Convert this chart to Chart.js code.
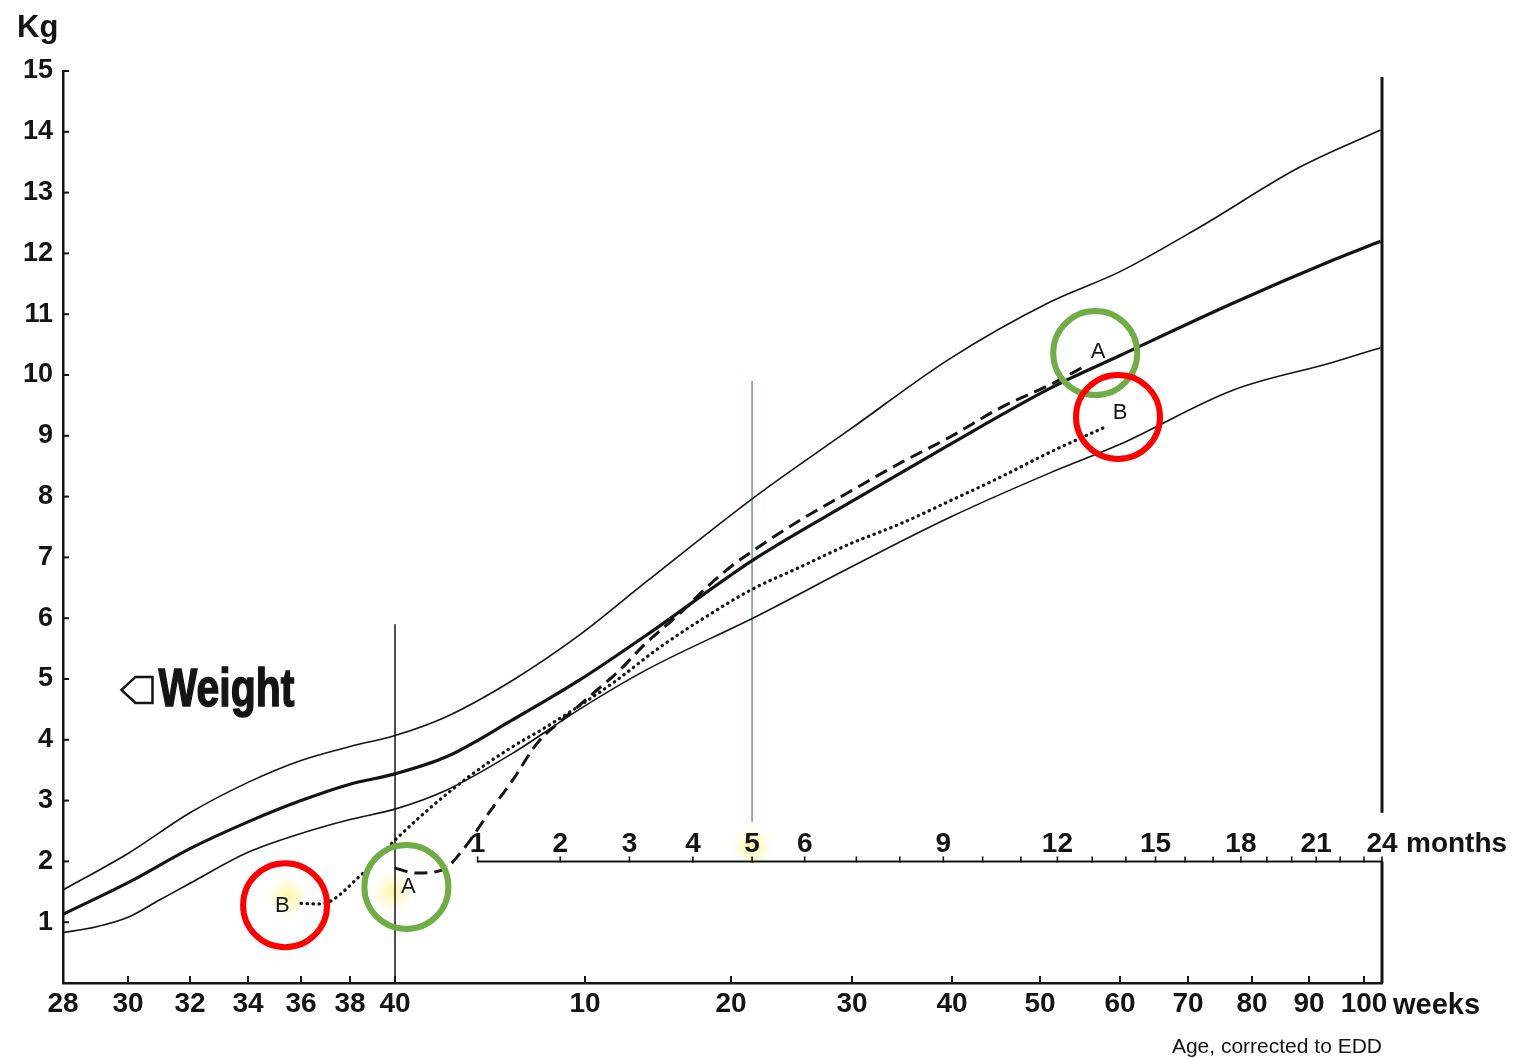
<!DOCTYPE html>
<html>
<head>
<meta charset="utf-8">
<title>Weight, corrected age</title>
<script src="https://cdn.jsdelivr.net/npm/chart.js@4.4.1/dist/chart.umd.min.js"></script>
<style>
  html, body { margin: 0; padding: 0; background: #fff; }
  #wrap { width: 1524px; height: 1058px; position: relative; }
</style>
</head>
<body>
<div id="wrap"><canvas id="weightChart"></canvas></div>
<script>
// ages are postmenstrual weeks (40 = term), weights in kg
const weekTicks = [28, 30, 32, 34, 36, 38, 40, 50, 60, 70, 80, 90, 100, 110, 120, 130, 140];
const kgTicks = [0, 1, 2, 3, 4, 5, 6, 7, 8, 9, 10, 11, 12, 13, 14, 15];
const monthLabels = [1, 2, 3, 4, 5, 6, 9, 12, 15, 18, 21, 24];

const upperAge = [28, 30, 32, 34, 36, 38, 40, 42.7, 46.2, 49.7, 54.2, 62, 69.8, 79.8, 91.25, 100, 111.8, 128.4, 144];
const upperKg  = [1.53, 2.13, 2.80, 3.30, 3.66, 3.89, 4.07, 4.38, 4.98, 5.72, 6.6, 8.0, 9.10, 10.27, 11.2, 11.7, 12.43, 13.42, 14.03];

const middleAge = [28, 30, 32, 34, 36, 38, 40, 42.7, 46.2, 49.7, 54.2, 62, 69.8, 79.8, 91.25, 100, 117, 134.4, 144];
const middleKg  = [1.13, 1.65, 2.21, 2.65, 3.00, 3.27, 3.44, 3.72, 4.33, 4.98, 5.72, 6.98, 7.90, 8.86, 9.78, 10.32, 11.18, 11.89, 12.2];

const lowerAge = [28, 29, 30, 31, 32, 34, 36, 38, 40, 42.7, 46.2, 49.7, 54.2, 62, 69.8, 79.8, 91.25, 100, 117, 134.4, 144];
const lowerKg  = [0.83, 0.92, 1.08, 1.36, 1.64, 2.15, 2.46, 2.69, 2.86, 3.17, 3.78, 4.50, 5.15, 6.02, 6.83, 7.66, 8.39, 8.86, 9.75, 10.21, 10.45];

// baby A (dashed) and baby B (dotted)
const babyAAge = [40, 41.1, 42.5, 43.6, 44.9, 46.2, 47.5, 49, 50.5, 52.4, 54, 56.6, 58.3, 60, 61.6, 65.7, 69.8, 74.8, 79.8, 85.5, 91.25, 95.4];
const babyAKg  = [1.89, 1.81, 1.86, 2.2, 2.78, 3.34, 3.95, 4.38, 4.75, 5.15, 5.55, 6.1, 6.5, 6.85, 7.08, 7.61, 8.08, 8.55, 8.98, 9.46, 9.84, 10.13];

const babyBAge = [36, 36.8, 38.5, 40, 42, 44, 46, 48, 50, 52, 55, 58, 61.6, 65.7, 69.8, 74.8, 79.8, 85.5, 91.25, 97.9];
const babyBKg  = [1.31, 1.30, 1.78, 2.35, 2.92, 3.42, 3.85, 4.22, 4.62, 4.95, 5.5, 5.98, 6.46, 6.84, 7.22, 7.55, 7.93, 8.32, 8.73, 9.13];

const WEEKS_PER_MONTH = 4.348;
const monthToAge = m => 40 + m * WEEKS_PER_MONTH;

// the printed age axis is stretched: preterm weeks wide, later weeks squeezed
const axisWeeks = [28, 30, 32, 34, 36, 38, 40, 50, 60, 70, 80, 90, 100, 110, 120, 130, 140, 144.35];
const axisSpots = [0, 65, 127, 185, 238, 287, 332, 522, 668, 789, 889, 977, 1057, 1125, 1189, 1246, 1301, 1319];
const AXIS_SPAN = axisSpots[axisSpots.length - 1];

function interp(v, xs, ys) {
  if (v <= xs[0]) return ys[0] + (v - xs[0]) * (ys[1] - ys[0]) / (xs[1] - xs[0]);
  for (let i = 1; i < xs.length; i++) {
    if (v <= xs[i]) return ys[i - 1] + (v - xs[i - 1]) * (ys[i] - ys[i - 1]) / (xs[i] - xs[i - 1]);
  }
  const n = xs.length - 1;
  return ys[n] + (v - xs[n]) * (ys[n] - ys[n - 1]) / (xs[n] - xs[n - 1]);
}

class AgeScale extends Chart.LinearScale {
  getPixelForValue(value) {
    return this.getPixelForDecimal(interp(value, axisWeeks, axisSpots) / AXIS_SPAN);
  }
  getValueForPixel(pixel) {
    return interp(this.getDecimalForPixel(pixel) * AXIS_SPAN, axisSpots, axisWeeks);
  }
}
AgeScale.id = 'age';
AgeScale.defaults = {};
Chart.register(AgeScale);

const toPoints = (xs, ys) => xs.map((x, i) => ({ x: x, y: ys[i] }));
const INK = '#141414';
const FONT = '"Liberation Sans", Arial, sans-serif';

function line(ctx, x1, y1, x2, y2, w, color) {
  ctx.save();
  ctx.strokeStyle = color || INK;
  ctx.lineWidth = w;
  ctx.beginPath();
  ctx.moveTo(x1, y1);
  ctx.lineTo(x2, y2);
  ctx.stroke();
  ctx.restore();
}

const chartExtras = {
  id: 'chartExtras',
  beforeDatasetsDraw(chart) {
    const { ctx, chartArea: a, scales: { x, y } } = chart;

    // soft yellow highlighter marks
    [[35.5, 1.42], [39.9, 1.5], [monthToAge(5), 2.25]].forEach(([age, kg]) => {
      const cx = x.getPixelForValue(age), cy = y.getPixelForValue(kg);
      const g = ctx.createRadialGradient(cx, cy, 0, cx, cy, 20);
      g.addColorStop(0, 'rgba(255,238,90,0.55)');
      g.addColorStop(1, 'rgba(255,238,90,0)');
      ctx.fillStyle = g;
      ctx.fillRect(cx - 22, cy - 22, 44, 44);
    });

    // inward tick marks
    kgTicks.forEach(v => line(ctx, a.left, y.getPixelForValue(v), a.left + 6, y.getPixelForValue(v), 2));
    weekTicks.forEach(v => line(ctx, x.getPixelForValue(v), a.bottom, x.getPixelForValue(v), a.bottom - 7, 2));

    // term line
    const xt = x.getPixelForValue(40);
    line(ctx, xt, y.getPixelForValue(5.9), xt, a.bottom, 1.5);

    // 5 month marker
    const x5 = x.getPixelForValue(monthToAge(5));
    line(ctx, x5, y.getPixelForValue(9.9), x5, y.getPixelForValue(2.65), 1.2, '#4472C4');

    // months scale sitting on 2 kg
    const ym = y.getPixelForValue(2);
    const xm1 = x.getPixelForValue(monthToAge(1)), xm24 = x.getPixelForValue(monthToAge(24));
    line(ctx, xm1, ym, xm24, ym, 2);
    for (let m = 1; m <= 24; m++) {
      const xm = x.getPixelForValue(monthToAge(m));
      line(ctx, xm, ym + 1, xm, ym - 5, 1.6);
    }
    ctx.save();
    ctx.fillStyle = INK;
    ctx.font = 'bold 28px ' + FONT;
    ctx.textAlign = 'center';
    ctx.textBaseline = 'alphabetic';
    monthLabels.forEach(m => ctx.fillText(String(m), x.getPixelForValue(monthToAge(m)), ym - 9));
    ctx.textAlign = 'left';
    ctx.fillText('months', xm24 + 24, ym - 9);
    ctx.restore();

    // right border of the grid, broken for the month labels
    line(ctx, a.right, y.getPixelForValue(14.9), a.right, y.getPixelForValue(2.8), 3);
    line(ctx, a.right, ym, a.right, a.bottom, 3);
  },
  afterDraw(chart) {
    const { ctx, chartArea: a, scales: { x, y } } = chart;
    ctx.save();
    ctx.fillStyle = INK;

    ctx.font = 'bold 31px ' + FONT;
    ctx.textAlign = 'left';
    ctx.fillText('Kg', 17, 37);

    ctx.font = 'bold 29px ' + FONT;
    ctx.fillText('weeks', x.getPixelForValue(140) + 29, a.bottom + 31);

    ctx.font = '21px ' + FONT;
    ctx.textAlign = 'right';
    ctx.fillText('Age, corrected to EDD', a.right, a.bottom + 70);

    // Weight tag
    const wx = x.getPixelForValue(29.8), wy = y.getPixelForValue(4.82);
    ctx.strokeStyle = INK;
    ctx.lineWidth = 2.5;
    ctx.beginPath();
    ctx.moveTo(wx, wy);
    ctx.lineTo(wx + 14, wy - 13);
    ctx.lineTo(wx + 31, wy - 13);
    ctx.lineTo(wx + 31, wy + 13);
    ctx.lineTo(wx + 14, wy + 13);
    ctx.closePath();
    ctx.stroke();
    ctx.save();
    ctx.translate(wx + 37, wy + 16);
    ctx.scale(0.76, 1);
    ctx.font = 'bold 54px ' + FONT;
    ctx.textAlign = 'left';
    ctx.lineWidth = 1.5;
    ctx.strokeText('Weight', 0, 0);
    ctx.fillText('Weight', 0, 0);
    ctx.restore();

    // A / B labels
    ctx.font = '22px ' + FONT;
    ctx.textAlign = 'center';
    ctx.textBaseline = 'middle';
    [['A', 40.7, 1.58], ['A', 97.25, 10.38], ['B', 35.3, 1.27], ['B', 100, 9.37]].forEach(([t, age, kg]) => {
      ctx.fillText(t, x.getPixelForValue(age), y.getPixelForValue(kg));
    });

    // annotation rings
    ctx.lineWidth = 6;
    [[35.4, 1.28, '#FF0000'], [40.6, 1.58, '#70AD47'], [96.9, 10.36, '#70AD47'], [99.75, 9.31, '#FF0000']].forEach(([age, kg, c]) => {
      ctx.strokeStyle = c;
      ctx.beginPath();
      ctx.arc(x.getPixelForValue(age), y.getPixelForValue(kg), 42, 0, Math.PI * 2);
      ctx.stroke();
    });
    ctx.restore();
  }
};

const tickFont = { family: FONT, size: 28, weight: 'bold' };

new Chart(document.getElementById('weightChart'), {
  type: 'line',
  data: {
    datasets: [
      { label: 'Upper', data: toPoints(upperAge, upperKg), borderColor: INK, borderWidth: 1.6 },
      { label: 'Middle', data: toPoints(middleAge, middleKg), borderColor: INK, borderWidth: 3.2 },
      { label: 'Lower', data: toPoints(lowerAge, lowerKg), borderColor: INK, borderWidth: 1.6 },
      { label: 'A', data: toPoints(babyAAge, babyAKg), borderColor: INK, borderWidth: 3, borderDash: [13, 7] },
      { label: 'B', data: toPoints(babyBAge, babyBKg), borderColor: INK, borderWidth: 3.2, borderDash: [0.5, 5.5], borderCapStyle: 'round' }
    ]
  },
  options: {
    responsive: true,
    maintainAspectRatio: false,
    devicePixelRatio: 1,
    animation: false,
    layout: { padding: { top: 71, right: 142, bottom: 0, left: 0 } },
    elements: {
      point: { radius: 0, hoverRadius: 0 },
      line: { cubicInterpolationMode: 'monotone', fill: false }
    },
    scales: {
      x: {
        type: 'age',
        min: 28,
        max: 144.35,
        afterBuildTicks: s => { s.ticks = weekTicks.map(v => ({ value: v })); },
        afterFit: s => { s.height = 75; },
        grid: { display: false, drawTicks: false },
        border: { display: true, color: INK, width: 2.5 },
        ticks: {
          autoSkip: false, maxRotation: 0, padding: 4, color: INK, font: tickFont,
          callback: v => (v <= 40 ? v : v - 40)
        }
      },
      y: {
        min: 0,
        max: 15,
        afterBuildTicks: s => { s.ticks = kgTicks.map(v => ({ value: v })); },
        afterFit: s => { s.width = 63; },
        grid: { display: false, drawTicks: false },
        border: { display: true, color: INK, width: 2.5 },
        ticks: {
          padding: 10, color: INK, font: { family: FONT, size: 27, weight: 'bold' },
          callback: v => (v === 0 ? '' : v)
        }
      }
    },
    plugins: { legend: { display: false }, tooltip: { enabled: false } }
  },
  plugins: [chartExtras]
});
</script>
</body>
</html>
